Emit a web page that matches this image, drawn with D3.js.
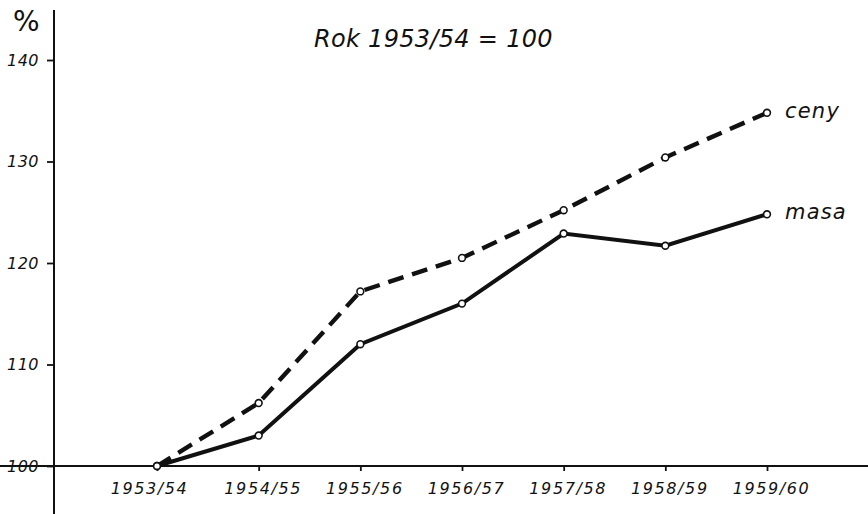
<!DOCTYPE html>
<html><head><meta charset="utf-8">
<script src="https://cdn.jsdelivr.net/npm/d3@7"></script>
<style>body{margin:0;background:#fff}svg{display:block}text{font-family:"DejaVu Sans",sans-serif;font-style:italic;fill:#111}</style>
</head><body>
<svg id="c" width="868" height="514"></svg>
<script>
const categories = ["1953/54","1954/55","1955/56","1956/57","1957/58","1958/59","1959/60"];
const ceny = [100, 106.2, 117.2, 120.5, 125.2, 130.4, 134.8];
const masa = [100, 103.0, 112.0, 116.0, 122.9, 121.7, 124.8];
const yTicks = [100, 110, 120, 130, 140];
const title = "Rok 1953/54 = 100";

const svg = d3.select("#c");
const x = d3.scalePoint().domain(categories).range([157, 767]);
const y = d3.scaleLinear().domain([100, 140]).range([466, 60]);
const ink = "#111";

// y axis line
svg.append("line").attr("x1",54).attr("x2",54).attr("y1",10).attr("y2",514)
  .attr("stroke",ink).attr("stroke-width",2);
// x axis line
svg.append("line").attr("x1",0).attr("x2",868).attr("y1",y(100)).attr("y2",y(100))
  .attr("stroke",ink).attr("stroke-width",1.8);

// y ticks
const yAxis = d3.axisLeft(y).tickValues(yTicks).tickSize(7).tickPadding(8);
const gy = svg.append("g").attr("transform","translate(54,0)").call(yAxis);
gy.select(".domain").remove();
gy.selectAll(".tick line").attr("stroke",ink).attr("stroke-width",1.8);
gy.selectAll(".tick text").style("font-size","16px").attr("letter-spacing",0.5).attr("fill",ink);

// x ticks
const xAxis = d3.axisBottom(x).tickSize(5).tickPadding(12);
const gx = svg.append("g").attr("transform",`translate(0,${y(100)})`).call(xAxis);
gx.select(".domain").remove();
gx.selectAll(".tick line").attr("stroke",ink).attr("stroke-width",1.8);
gx.selectAll(".tick text").style("font-size","16px").attr("letter-spacing",1.6).attr("fill",ink).attr("dx",(d,i)=>i===0?-8:4);

// % sign
svg.append("text").attr("x",13).attr("y",31).style("font-size","28px").style("font-style","normal").text("%");
// title
svg.append("text").attr("x",314).attr("y",47).style("font-size","24px").attr("letter-spacing",0.3).text(title);

const line = d3.line().x((d,i)=>x(categories[i])).y(d=>y(d));
svg.append("path").datum(ceny).attr("d",line).attr("fill","none").attr("stroke",ink)
  .attr("stroke-width",4.4).attr("stroke-dasharray","16 9");
svg.append("path").datum(masa).attr("d",line).attr("fill","none").attr("stroke",ink)
  .attr("stroke-width",4);

[ceny, masa].forEach(s=>{
  svg.append("g").selectAll("circle").data(s).join("circle")
    .attr("cx",(d,i)=>x(categories[i])).attr("cy",d=>y(d)).attr("r",3.4)
    .attr("fill","#fff").attr("stroke",ink).attr("stroke-width",1.6);
});

svg.append("text").attr("x",785).attr("y",y(ceny[6])+5).style("font-size","21px").attr("letter-spacing",1.2).text("ceny");
svg.append("text").attr("x",785).attr("y",y(masa[6])+5).style("font-size","21px").attr("letter-spacing",1.2).text("masa");
</script>
</body></html>
